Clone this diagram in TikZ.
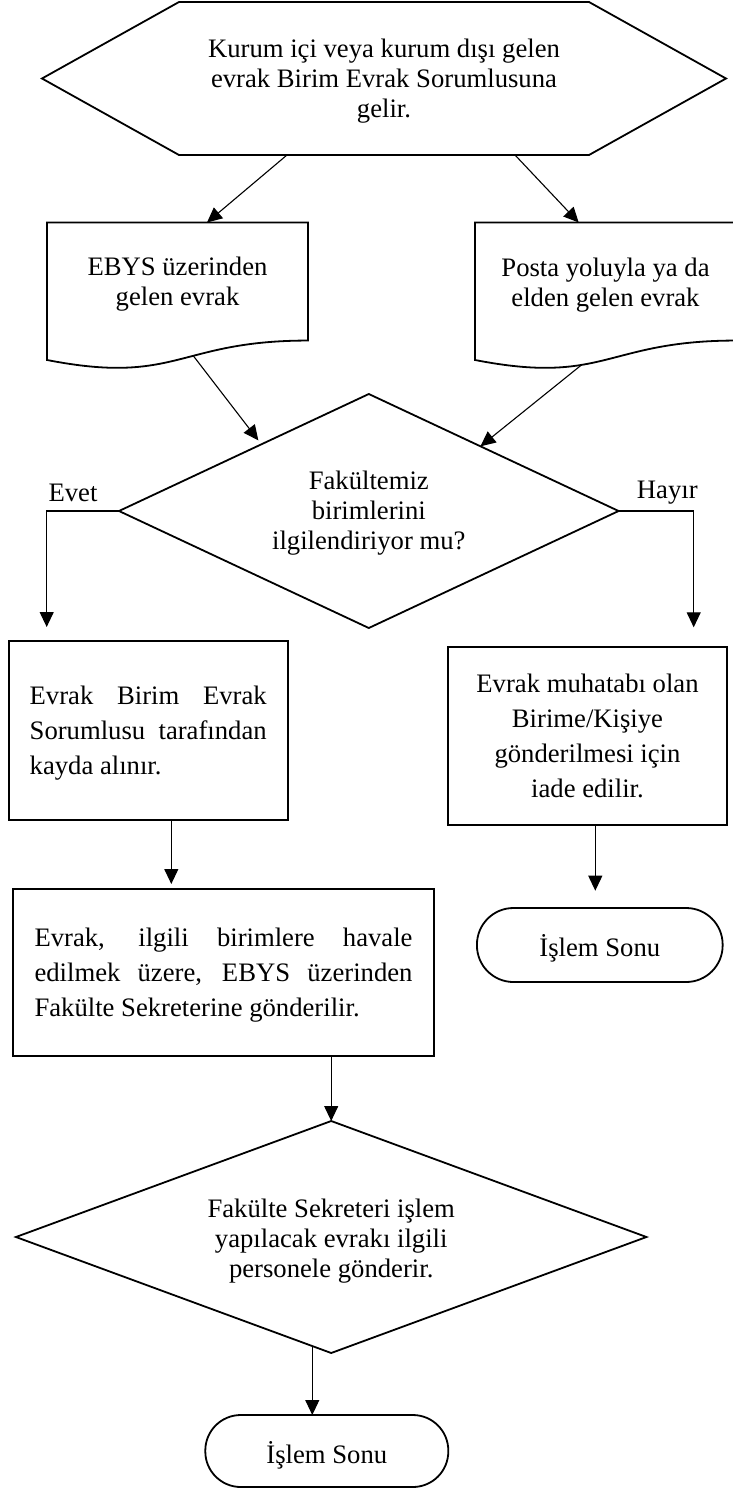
\documentclass[tikz,border=0pt]{standalone}
\usepackage{fontspec}
\setmainfont{Liberation Serif}
\usetikzlibrary{arrows.meta,shapes.geometric,calc}
\newcommand\upstrut[1]{\rule{0pt}{#1}}
\begin{document}
\begin{tikzpicture}[x=1pt,y=-1pt,
  shp/.style={draw, line width=1.8pt},
  conn/.style={line width=1.1pt, -{Triangle[length=15pt,width=14pt]}},
  tx/.style={font=\fontsize{26.67pt}{30pt}\selectfont, align=center, inner sep=0pt, outer sep=0pt},
  wide/.style={font=\fontsize{26.67pt}{34.8pt}\selectfont},
  boxnode/.style={shp, inner sep=0pt, outer sep=0pt},
  dia/.style={shp, shape=diamond, inner sep=0pt, outer sep=0pt},
  term/.style={shp, inner sep=0pt, outer sep=0pt, text height=22pt, text depth=0pt,
    font=\fontsize{26.67pt}{30pt}\selectfont}
]
\useasboundingbox (0,0) rectangle (732,1489);

% ---- hexagon (start) ----
\coordinate (hxA) at (179,2);
\coordinate (hxB) at (589,2);
\coordinate (hxC) at (726,78.5);
\coordinate (hxD) at (589,155);
\coordinate (hxE) at (179,155);
\coordinate (hxF) at (42,78.5);
\draw[shp] (hxA) -- (hxB) -- (hxC) -- (hxD) -- (hxE) -- (hxF) -- cycle;
\node[tx] (hextext) at (384,81.5) {Kurum içi veya kurum dışı gelen\\evrak Birim Evrak Sorumlusuna\\gelir.};

% ---- document shapes ----
\draw[shp] (47,222.5) -- (308,222.5) -- (308,340.55)
  .. controls (177.5,340.55) and (177.5,385.52) .. (47,359.98)
  coordinate[pos=0.42] (ebysOut) -- cycle;
\node[tx] (ebystext) at (177.5,284.6) {EBYS üzerinden\\gelen evrak};

\draw[shp] (475,222.5) -- (736,222.5) -- (736,340.55)
  .. controls (605.5,340.55) and (605.5,385.52) .. (475,359.98)
  coordinate[pos=0.62] (postaOut) -- cycle;
\node[tx] (postatext) at (605.5,285.5) {Posta yoluyla ya da\\elden gelen evrak};

\coordinate (hexOut1) at (287,155);
\coordinate (hexOut2) at (515,155);
\coordinate (ebysIn) at (207,222.5);
\coordinate (postaIn) at (578.7,222.5);
\draw[conn] (hexOut1) -- (ebysIn);
\draw[conn] (hexOut2) -- (postaIn);

% ---- decision 1 ----
\node[dia, tx, aspect=2.13, minimum width=499.6pt, minimum height=234pt] (d1) at (368.8,511)
  {\upstrut{22pt}Fakültemiz\\birimlerini\\ilgilendiriyor mu?};
\draw[conn, shorten >=5pt] (ebysOut) -- ($(d1.west)!0.57!(d1.north)$);
\draw[conn] (postaOut) -- ($(d1.north)!0.447!(d1.east)$);

\coordinate (evetEnd) at (46.7,627);
\coordinate (hayirEnd) at (693.7,627.3);
\draw[conn] (d1.west) -| (evetEnd);
\draw[conn] (d1.east) -| (hayirEnd);
\node[tx, anchor=base] (evet) at (73,501) {Evet};
\node[tx, anchor=base] (hayir) at (667.3,498.5) {Hayır};

% ---- boxes ----
\node[boxnode, tx, wide, align=left, minimum width=279pt, minimum height=179pt] (b2) at (148.2,730.5)
  {\upstrut{24pt}\makebox[237pt][s]{Evrak Birim Evrak}\\\makebox[237pt][s]{Sorumlusu tarafından}\\kayda alınır.};

\node[boxnode, tx, wide, minimum width=279pt, minimum height=178pt] (b4) at (587.5,736)
  {Evrak muhatabı olan\\Birime/Kişiye\\gönderilmesi için\\iade edilir.};

\node[boxnode, tx, wide, align=left, minimum width=421pt, minimum height=167pt] (b3) at (223.5,972.5)
  {\upstrut{24pt}\makebox[378pt][s]{Evrak, ilgili birimlere havale}\\\makebox[378pt][s]{edilmek üzere, EBYS üzerinden}\\Fakülte Sekreterine gönderilir.};

\coordinate (b3arr) at (171.3,884);
\draw[conn] ([xshift=23.1pt]b2.south) -- (b3arr);

% ---- terminators ----
\node[term, rounded corners=36.5pt, minimum width=245.7pt, minimum height=74pt] (t1) at (599.8,945) {İşlem Sonu};
\coordinate (t1arr) at (595.3,890.7);
\draw[conn] ([xshift=7.8pt]b4.south) -- (t1arr);

% ---- decision 2 ----
\node[dia, tx, aspect=2.7, minimum width=630.5pt, minimum height=232pt] (d2) at (331.2,1237)
  {\upstrut{26pt}Fakülte Sekreteri işlem\\yapılacak evrakı ilgili\\personele gönderir.};
\draw[conn] (b3.south -| d2.north) -- (d2.north);

\node[term, text height=24.6pt, rounded corners=35.5pt, minimum width=243pt, minimum height=72pt] (t2) at (326.8,1451) {İşlem Sonu};
\coordinate (d2out) at ($(d2.west)!0.94!(d2.south)$);
\draw[conn] (d2out) -- (d2out |- t2.north);
\end{tikzpicture}
\end{document}
